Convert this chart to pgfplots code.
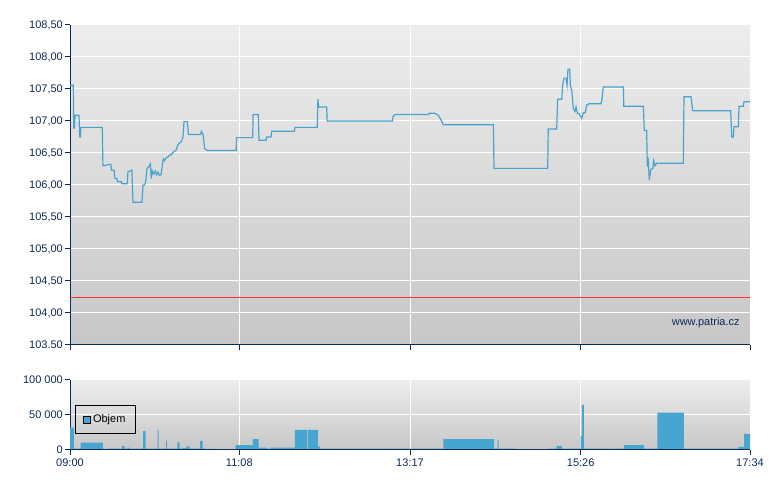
\documentclass[border=0pt]{standalone}
\usepackage{fontspec}
\setmainfont{Liberation Sans}
\usepackage{pgfplots}
\pgfplotsset{compat=1.18}
\definecolor{navy}{HTML}{0C2A5C}
\definecolor{lineblue}{HTML}{4AA3CF}
\definecolor{barblue}{HTML}{47A6CF}

\pgfplotsset{
  panel/.style={
    scale only axis, width=680pt,
    xmin=0, xmax=514,
    axis x line*=bottom, axis y line*=left,
    axis line style={navy, line width=1pt},
    tick style={navy, line width=1pt},
    tick align=outside, major tick length=5pt,
    grid=major, grid style={white, line width=1pt},
    xtick={0,128,257,386,514},
    scaled ticks=false,
    ticklabel style={font=\fontsize{11}{13}\selectfont, text=navy},
    yticklabel style={inner sep=2pt},
    /pgf/number format/assume math mode=true,
  },
}

\begin{document}
\begin{tikzpicture}
\useasboundingbox (0pt,0pt) rectangle (780pt,490pt);

% price panel
\begin{axis}[panel,
  at={(70pt,145pt)}, anchor=south west, height=320pt,
  ymin=103.5, ymax=108.5,
  ytick={103.5,104,104.5,105,105.5,106,106.5,107,107.5,108,108.5},
  yticklabels={{103.50},{104,00},{104,50},{105,00},{105,50},{106,00},{106,50},{107,00},{107,50},{108,00},{108,50}},
  xticklabels={,,,,},
  axis background/.style={shade, top color=black!7, bottom color=black!22},
]
\addplot[lineblue, line width=1.2pt] coordinates {
(0,107.56)(2.5,107.56)(2.8,106.89)(3.4,106.89)(3.8,107.09)(6.8,107.09)(7.3,106.75)(7.9,106.75)(8.2,106.90)(24.4,106.90)(24.9,106.30)(27.4,106.31)(29.1,106.32)(30.8,106.32)(31.5,106.23)(33.3,106.23)(34.0,106.10)(35.5,106.10)(36.0,106.05)(38.8,106.05)(39.2,106.02)(43.3,106.02)(43.8,106.21)(45.0,106.21)(46.0,106.23)(46.8,106.23)(47.6,105.73)(54.4,105.73)(55.2,106.00)(56.4,106.00)(57.2,106.05)(58.2,106.26)(59.5,106.28)(60.8,106.33)(61.4,106.10)(62.2,106.22)(63.3,106.17)(64.5,106.22)(65.4,106.16)(66.6,106.20)(67.5,106.15)(68.8,106.16)(70.5,106.41)(71.5,106.38)(72.8,106.43)(74.2,106.44)(75.4,106.47)(76.6,106.47)(77.9,106.51)(79.2,106.53)(80.4,106.55)(81.6,106.63)(83.0,106.66)(84.2,106.68)(85.4,106.75)(86.2,106.99)(88.7,106.99)(89.5,106.79)(98.8,106.79)(99.3,106.84)(100.5,106.80)(101.8,106.57)(103.8,106.54)(125.7,106.54)(125.8,106.74)(138.1,106.74)(138.4,107.10)(142.3,107.10)(142.9,106.70)(148.2,106.70)(148.6,106.75)(151.9,106.75)(152.5,106.84)(169.6,106.84)(170.1,106.90)(186.9,106.90)(187.4,107.34)(188.0,107.22)(194.0,107.22)(194.4,107.00)(243.6,107.00)(244.4,107.08)(245.7,107.10)(270.8,107.10)(271.6,107.12)(275.9,107.12)(278.4,107.09)(280.1,107.03)(282.2,106.94)(320.0,106.94)(320.5,106.26)(361.1,106.26)(361.5,106.875)(367.9,106.875)(368.6,107.34)(371.7,107.34)(372.4,107.56)(373.4,107.67)(374.9,107.67)(375.7,107.56)(376.4,107.81)(377.7,107.81)(378.2,107.56)(379.4,107.46)(380.4,107.20)(381.7,107.15)(382.5,107.22)(383.5,107.12)(385.0,107.11)(386.8,107.04)(388.0,107.13)(389.5,107.13)(390.6,107.25)(392.5,107.27)(401.4,107.27)(402.1,107.34)(403.1,107.53)(418.3,107.53)(418.6,107.23)(433.4,107.23)(434.1,106.85)(435.9,106.85)(436.4,106.29)(437.1,106.37)(437.9,106.08)(439.0,106.24)(440.5,106.26)(441.2,106.38)(442.2,106.30)(443.5,106.34)(463.6,106.34)(464.1,107.38)(469.4,107.38)(470.7,107.16)(499.4,107.16)(500.2,106.75)(501.4,106.75)(501.9,106.91)(505.2,106.91)(505.7,107.23)(508.9,107.23)(509.5,107.30)(514,107.30)
};
\addplot[color=red!80!white, line width=1.2pt] coordinates {(0,104.24)(257,104.24)(514,104.24)};
\node[anchor=east, text=navy, font=\fontsize{11}{13}\selectfont] at (rel axis cs:0.99,0.069) {www.patria.cz};
\end{axis}

% volume panel
\begin{axis}[panel,
  at={(70pt,40pt)}, anchor=south west, height=70pt,
  ymin=0, ymax=100000,
  ytick={0,50000,100000},
  yticklabels={0,{50 000},{100 000}},
  xticklabels={09:00,11:08,13:17,15:26,17:34},
  axis background/.style={shade, top color=black!7, bottom color=black!22},
  legend style={at={(rel axis cs:0.0074,0.643)}, anchor=north west, draw=black, fill=none,
    font=\fontsize{11}{13}\selectfont, inner xsep=8pt, inner ysep=7.5pt},
]
\addplot[const plot, fill=barblue, draw=none,
  legend image code/.code={\draw[fill=barblue, draw=black, line width=0.8pt] (0pt,-3.5pt) rectangle (7pt,3.5pt);}]
coordinates {
(0,31900)(3.0,2000)(8.1,10500)(24.9,2000)(26.1,0)(28.7,2000)(39.3,5700)(41.3,2000)(43.8,3500)(45.1,1500)(46.1,2000)(55.2,27000)(57.2,2000)(66.3,28500)(67.0,2000)(72.6,13300)(73.3,2000)(81.1,11000)(82.9,2000)(84.7,2800)(88.0,4700)(90.7,2000)(98.3,12900)(100.3,2000)(102.0,1500)(111.1,0)(125.2,7100)(138.3,15700)(142.6,3300)(148.9,2000)(151.7,3300)(169.9,28600)(179.1,0)(179.7,28600)(187.5,4700)(189.0,1800)(282.2,15700)(320.5,2000)(323.3,14300)(324.0,2000)(336.4,0)(361.5,2000)(367.9,5700)(371.9,2000)(386.0,20000)(387.0,64300)(388.5,2000)(406.4,0)(407.2,2000)(418.8,7100)(433.9,2000)(443.9,53300)(464.1,2000)(505.2,4300)(509.5,22900)(514,22900)
} \closedcycle;
\addlegendentry{Objem}
\draw[navy, line width=1pt] (rel axis cs:0,0) -- (rel axis cs:1,0);
\end{axis}
\end{tikzpicture}
\end{document}
